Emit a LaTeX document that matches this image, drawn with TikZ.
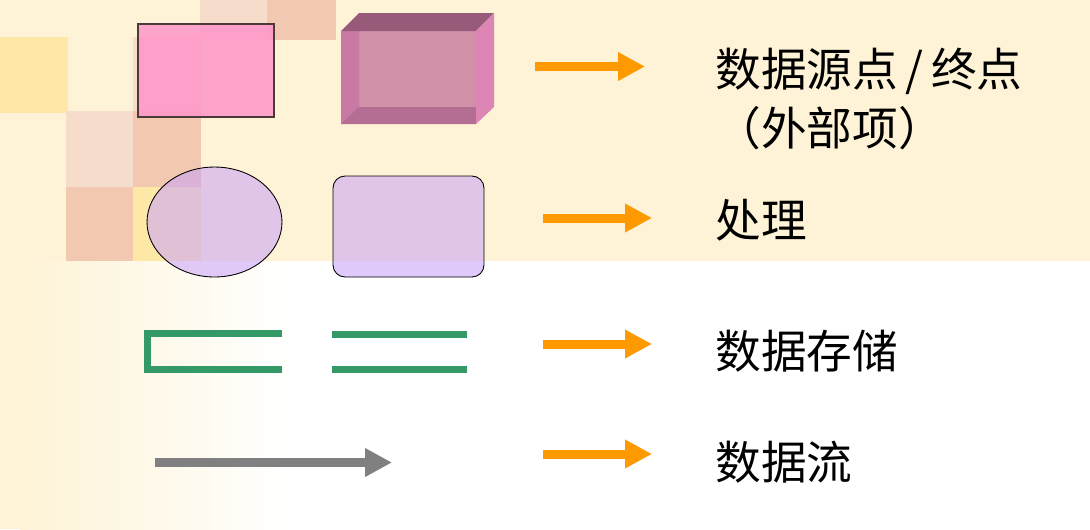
\documentclass[tikz,border=0pt]{standalone}
\usepackage{fontspec}
\usepackage{tikz}
\usetikzlibrary{arrows.meta,shapes.geometric}
\newfontfamily\cjk{Noto Sans CJK SC}
\definecolor{cream}{HTML}{FEF3D6}
\definecolor{peachlt}{HTML}{F5DCCB}
\definecolor{peach}{HTML}{F2C9B0}
\definecolor{sunny}{HTML}{FEE8A8}
\definecolor{pinkfill}{HTML}{FF95C9}
\definecolor{lilac}{HTML}{C8A0FA}
\definecolor{storegreen}{HTML}{339966}
\definecolor{hintorange}{HTML}{FF9900}
\definecolor{cubefront}{RGB}{207,144,168}
\definecolor{cubeleft}{RGB}{200,121,164}
\definecolor{cubebottom}{RGB}{180,110,147}
\definecolor{cubetop}{RGB}{151,91,121}
\definecolor{cuberight}{RGB}{221,134,181}
\tikzset{tile/.style={fill=#1,draw=none}}

\begin{document}
\begin{tikzpicture}[x=0.02cm,y=-0.02cm]
  \tikzstyle{entity}=[rectangle,draw=black!70!pink,line width=0.6pt,fill=pinkfill,
                      fill opacity=0.85,draw opacity=1,minimum width=2.72cm,minimum height=1.86cm,inner sep=0]
  \tikzstyle{proc}=[draw=black,line width=0.5pt,fill=lilac,fill opacity=0.55,draw opacity=1,inner sep=0]
  \tikzstyle{store}=[draw=storegreen,line width=0.14cm]
  \tikzstyle{hint}=[draw=hintorange,line width=0.18cm,-{Triangle[length=0.54cm,width=0.54cm]}]
  \tikzstyle{flow}=[draw=black!50,line width=0.18cm,-{Triangle[length=0.54cm,width=0.54cm]}]
  \tikzstyle{lbl}=[anchor=west,inner sep=0,font=\cjk\fontsize{26}{34}\selectfont]

  \useasboundingbox (0,0) rectangle (1090,529);
  % background
  \fill[white] (0,0) rectangle (1090,529);
  \fill[cream] (0,0) rectangle (1090,261);
  \fill[cream] (0,261) rectangle (20,529);
  \shade[left color=cream,right color=white] (20,261) rectangle (290,529);
  \fill[tile=peachlt] (200,0) rectangle (267,40);
  \fill[tile=peach] (267,0) rectangle (336,40);
  \fill[tile=sunny] (0,37) rectangle (68,113);
  \fill[tile=peachlt] (133,37) rectangle (201,111);
  \fill[tile=peachlt] (66,111) rectangle (133,187);
  \fill[tile=peach] (133,111) rectangle (201,187);
  \fill[tile=peach] (66,187) rectangle (133,261);
  \fill[tile=sunny] (133,187) rectangle (201,261);

  % external entity
  \node[entity] (src) at (206,70.5) {};
  \fill[cubefront] (341,31) rectangle (476,124);
  \fill[cubeleft] (341,31) -- (359,31) -- (359,107) -- (341,124) -- cycle;
  \fill[cubebottom] (341,124) -- (359,107) -- (476,107) -- (476,124) -- cycle;
  \fill[cubetop] (341,31) -- (359,13) -- (494,13) -- (476,31) -- cycle;
  \fill[cuberight] (476,31) -- (494,13) -- (494,107) -- (476,124) -- cycle;

  % process
  \node[proc,ellipse,minimum width=2.7cm,minimum height=2.2cm] (procA) at (214.5,222) {};
  \node[proc,rectangle,rounded corners=0.24cm,minimum width=3.02cm,minimum height=2.02cm] (procB) at (408.5,226.5) {};

  % data store
  \coordinate (s1a) at (282,333.5);
  \coordinate (s1b) at (282,369);
  \draw[store,line join=miter] (s1a) -- (147.5,333.5) -- (147.5,369) -- (s1b);
  \coordinate (s2a) at (332,334);
  \coordinate (s2b) at (467,334);
  \coordinate (s2c) at (332,369);
  \coordinate (s2d) at (467,369);
  \draw[store] (s2a) -- (s2b);
  \draw[store] (s2c) -- (s2d);

  % data flow
  \coordinate (f0) at (155,462.5);
  \coordinate (f1) at (392,462.5);
  \draw[flow] (f0) -- (f1);

  % labels
  \node[lbl,align=left] (lblsrc) at (715,99) {数据源点\,/\,终点\\（外部项）};
  \node[lbl] (lblproc) at (715,220) {处理};
  \node[lbl] (lblstore) at (715,351) {数据存储};
  \node[lbl] (lblflow) at (715,462) {数据流};

  \coordinate (h1) at (535,66.5);  \coordinate (h1e) at (645,66.5);
  \coordinate (h2) at (543,218);   \coordinate (h2e) at (652,218);
  \coordinate (h3) at (543,344);   \coordinate (h3e) at (652,344);
  \coordinate (h4) at (543,454);   \coordinate (h4e) at (652,454);
  \draw[hint] (h1) -- (h1e);
  \draw[hint] (h2) -- (h2e);
  \draw[hint] (h3) -- (h3e);
  \draw[hint] (h4) -- (h4e);
\end{tikzpicture}
\end{document}
